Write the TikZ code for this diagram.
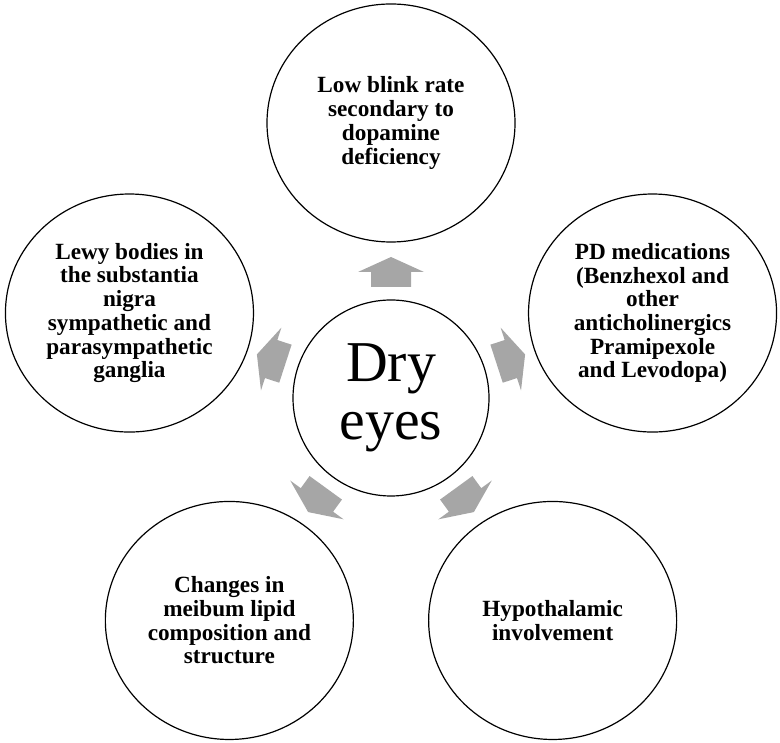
\documentclass[tikz,border=0pt]{standalone}
\usepackage{fontspec}
\setmainfont{Liberation Serif}
\usetikzlibrary{shapes.geometric,calc}
\definecolor{arrowgray}{RGB}{166,166,166}
\tikzset{
  outer/.style={ellipse, draw=black, line width=1.2bp, minimum width=248bp, minimum height=238bp,
    inner sep=0pt, align=center, font=\bfseries\fontsize{23.3pt}{23.8pt}\selectfont},
  centre/.style={circle, draw=black, line width=1.2bp, minimum size=196bp, inner sep=0pt,
    align=center, font=\fontsize{58pt}{58pt}\selectfont},
  blockarrow/.style={fill=arrowgray, draw=none}
}
\begin{document}
\begin{tikzpicture}[x=1bp,y=1bp]
\useasboundingbox (0,0) rectangle (780,743);
\coordinate (C) at (391,345);
\node[centre] (dry) at (C) {Dry\\eyes};
\node[outer] (blink) at ($(C)+(90:275)$) {Low blink rate\\secondary to\\dopamine\\deficiency};
\node[outer] (med) at ($(C)+(18:275)$) {PD medications\\(Benzhexol and\\other\\anticholinergics\\Pramipexole\\and Levodopa)};
\node[outer] (hypo) at ($(C)+(-54:275)$) {Hypothalamic\\involvement};
\node[outer] (meib) at ($(C)+(-126:275)$) {Changes in\\meibum lipid\\composition and\\structure};
\node[outer] (lewy) at ($(C)+(162:275)$) {Lewy bodies in\\the substantia\\nigra\\sympathetic and\\parasympathetic\\ganglia};
\foreach \a in {90,18,-54,-126,162}{
  \fill[blockarrow, shift={(dry.center)}, rotate=\a]
    (111,-20) -- (126,-20) -- (126,-33) -- (141,0) -- (126,33) -- (126,20) -- (111,20) -- cycle;
}
\end{tikzpicture}
\end{document}
